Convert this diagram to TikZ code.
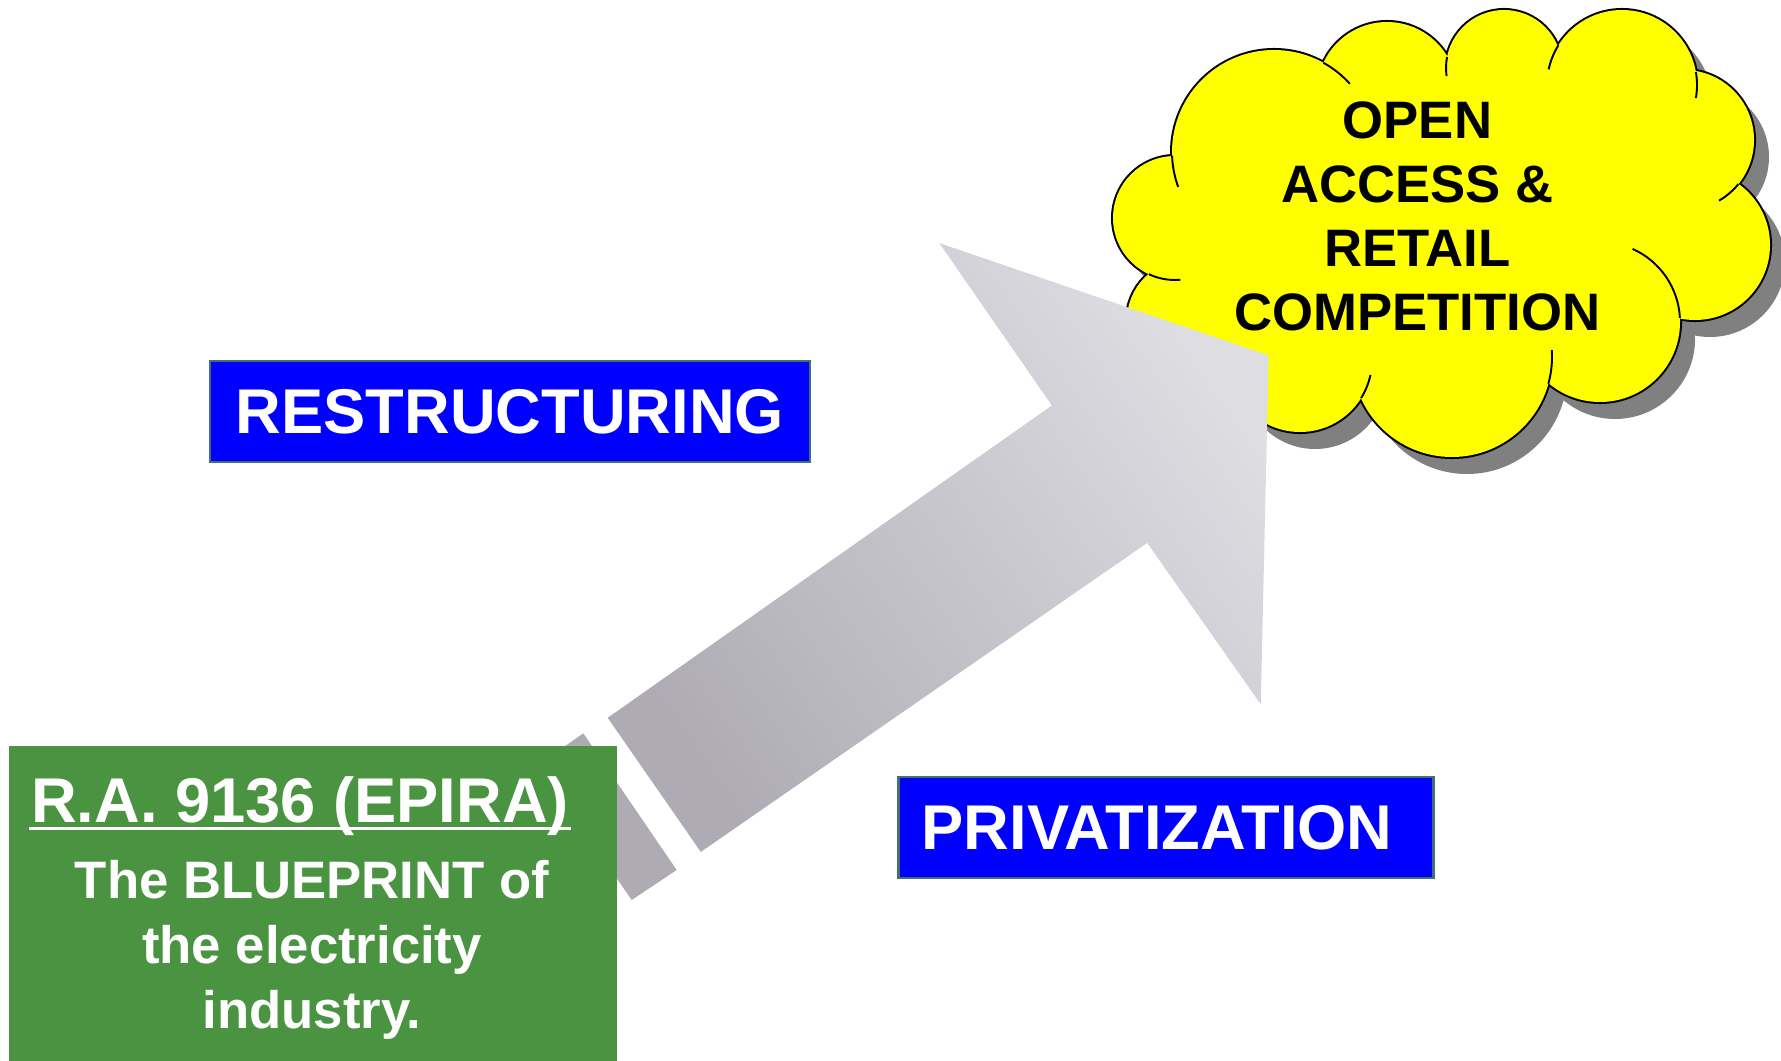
\documentclass[tikz,border=0pt]{standalone}
\usepackage{fontspec}
\setmainfont{Liberation Sans}
\definecolor{boxblue}{RGB}{0,0,255}
\definecolor{boxedge}{RGB}{64,112,112}
\definecolor{lawgreen}{RGB}{74,148,65}
\definecolor{arrowdark}{RGB}{174,171,180}
\definecolor{arrowlight}{RGB}{222,221,226}
\definecolor{cloudshadow}{RGB}{128,128,128}
\definecolor{cloudyellow}{RGB}{255,255,0}
\newcommand\cloudpuffs{1175/218/62,1274/152/102,1387/92/70,1504/68/58,1622/85/75,1684/140/70,
    1695/245/75,1600/322/80,1452/357/100,1300/360/72,1187/320/60}
\newcommand\cloudcore{(1175,218) -- (1274,152) -- (1387,92) -- (1504,68) -- (1622,85) -- (1684,140)
    -- (1695,245) -- (1600,322) -- (1452,357) -- (1300,360) -- (1187,320) -- cycle}
\tikzset{
    stagebox/.style={draw=boxedge,line width=1.4pt,fill=boxblue,text=white,
        font=\fontsize{36}{42}\selectfont\bfseries,inner sep=0pt,minimum height=2.02cm},
    lawtext/.style={text=white,align=center,inner sep=0pt,
        font=\fontsize{30}{36.8}\selectfont\bfseries},
    goaltext/.style={text=black,align=center,inner sep=0pt,
        font=\fontsize{30}{36.4}\selectfont\bfseries}
}
\begin{document}
\begin{tikzpicture}[x=0.02cm,y=-0.02cm]
    \useasboundingbox (0,0) rectangle (1781,1061);
    %% goal cloud: shadow, outline, fill
    \fill[cloudshadow] \foreach \cx/\cy/\r in \cloudpuffs {(\cx+15,\cy+17) circle[radius=\r]};
    \fill[cloudshadow,shift={(15,17)}] \cloudcore;
    \draw[line width=2.3pt] \foreach \cx/\cy/\r in \cloudpuffs {(\cx,\cy) circle[radius=\r]};
    \fill[cloudyellow] \foreach \cx/\cy/\r in \cloudpuffs {(\cx,\cy) circle[radius=\r]};
    \fill[cloudyellow] \cloudcore;
    %% inner strokes of the puffs
    \foreach \cx/\cy/\r/\a/\b in {1274/152/102/178/160,1175/218/62/115/85,1274/152/102/-61/-42,
        1504/68/58/191/172,1622/85/75/212/192,1622/85/75/-10/10,1684/140/70/39/60,
        1600/322/80/-3/-66,1452/357/100/15.5/-4,1300/360/72/32/12}
        \draw[line width=1.1pt] (\cx,\cy) ++(\a:\r) arc[start angle=\a,end angle=\b,radius=\r];
    \node[goaltext] (goaltxt) at (1417.5,216.5) {OPEN\\ACCESS \&\\RETAIL\\COMPETITION};
    %% striped arrow
    \shade[top color=arrowlight,bottom color=arrowdark,shading angle=-55]
        (607.7,717.8) -- (1051.8,405.5) -- (939.3,243.1) -- (1268.7,355.5)
        -- (1260.7,704.2) -- (1147.2,542.9) -- (700.8,851.9) -- cycle;
    \fill[arrowdark] (583.3,733.3) -- (676.7,870) -- (631.7,900) -- (538.5,764.8) -- cycle;
    %% law
    \node[fill=lawgreen,anchor=north west,minimum width=12.16cm,minimum height=6.5cm,inner sep=0pt]
        (epira) at (9,746) {};
    \node[text=white,anchor=base,inner sep=1pt,font=\fontsize{36}{42}\selectfont\bfseries]
        (epiratitle) at (300,822) {R.A. 9136 (EPIRA)};
    \draw[white,line width=1.2pt] ([yshift=-0.13cm]epiratitle.base west) -- ([yshift=-0.13cm]epiratitle.base east);
    \node[lawtext] (epirabody) at (312,950) {The BLUEPRINT of\\the electricity\\industry.};
    %% stages
    \node[stagebox,minimum width=12cm] (restr) at (510,411.5) {RESTRUCTURING};
    \node[stagebox,minimum width=10.7cm] (priv) at (1166,827.5) {\hspace*{-0.36cm}PRIVATIZATION};
\end{tikzpicture}
\end{document}
